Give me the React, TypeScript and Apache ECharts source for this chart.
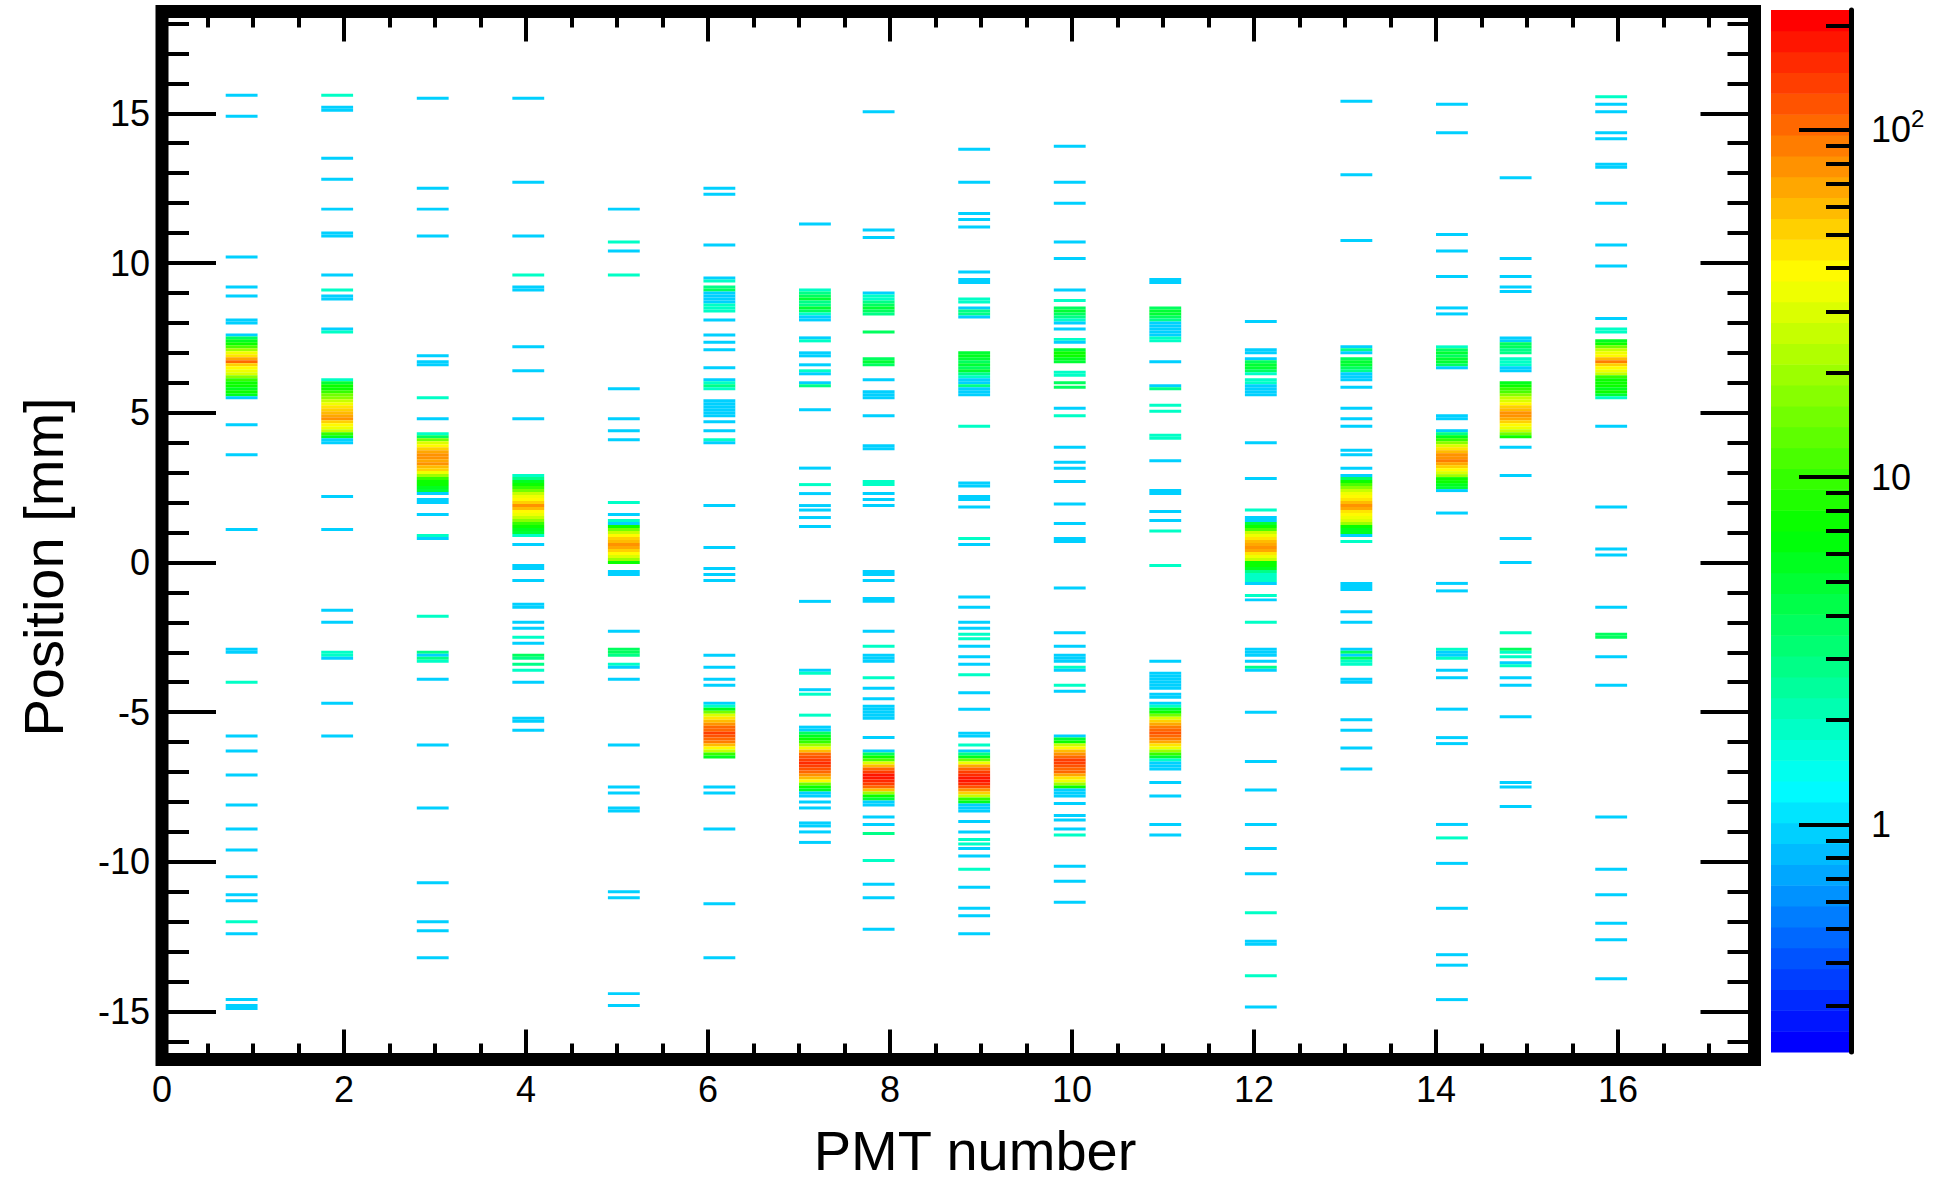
import React, { useEffect, useRef } from 'react';
import * as echarts from 'echarts';

// ---------- data ----------
// x centres of the occupied PMT bins (bin width 0.35)
const pmtX = [0.875, 1.925, 2.975, 4.025, 5.075, 6.125, 7.175, 7.875, 8.925, 9.975, 11.025, 12.075, 13.125, 14.175, 14.875, 15.925];
const binWidthX = 0.35;
const binHeightY = 0.1;

// [position (mm), counts] for each PMT column
const col01 = [[15.6,1],[14.9,1],[10.2,1],[9.2,1],[8.9,1],[8.1,1],[8.0,1],
  [7.6,1],[7.5,4],[7.4,6],[7.3,8],[7.2,12],[7.1,20],[7.0,35],[6.9,45],[6.8,70],[6.7,110],[6.6,50],[6.5,40],[6.4,35],[6.3,30],[6.2,18],[6.1,10],[6.0,8],[5.9,7],[5.8,6],[5.7,7],[5.6,6],[5.5,1],
  [4.6,1],[3.6,1],[1.1,1],[-2.9,1],[-3.0,1],[-4.0,2],[-5.8,1],[-6.3,1],[-7.1,1],[-8.1,1],[-8.9,1],[-9.6,1],[-10.5,1],[-11.1,1],[-11.3,1],[-12.0,2],[-12.4,1],[-14.6,1],[-14.8,1],[-14.9,1]];
const col02 = [[15.6,2],[15.2,1],[15.1,1],[13.5,1],[12.8,1],[11.8,1],[11.0,1],[10.9,1],[9.6,1],[9.1,2],[8.9,1],[8.8,1],[7.8,1],[7.7,2],
  [6.1,2],[6.0,5],[5.9,7],[5.8,8],[5.7,10],[5.6,14],[5.5,18],[5.4,25],[5.3,35],[5.2,45],[5.1,50],[5.0,60],[4.9,70],[4.8,80],[4.7,55],[4.6,40],[4.5,35],[4.4,25],[4.3,10],[4.2,6],[4.1,1],[4.0,1],
  [2.2,1],[1.1,1],[-1.6,1],[-2.0,1],[-3.0,2],[-3.1,2],[-3.2,1],[-4.7,1],[-5.8,1]];
const col03 = [[15.5,1],[12.5,1],[11.8,1],[10.9,1],[6.9,1],[6.7,1],[6.6,1],[5.5,2],[4.8,1],
  [4.3,2],[4.2,4],[4.1,15],[4.0,30],[3.9,40],[3.8,50],[3.7,65],[3.6,75],[3.5,80],[3.4,70],[3.3,75],[3.2,60],[3.1,50],[3.0,35],[2.9,20],[2.8,10],[2.7,8],[2.6,7],[2.5,6],[2.4,5],[2.3,1],
  [2.1,1],[2.0,1],[1.6,1],[0.9,2],[0.8,1],[-1.8,2],[-3.0,3],[-3.1,1],[-3.2,3],[-3.3,2],[-3.9,1],[-6.1,1],[-8.2,1],[-10.7,1],[-12.0,1],[-12.3,1],[-13.2,1]];
const col04 = [[15.5,1],[12.7,1],[10.9,1],[9.6,2],[9.2,1],[9.1,1],[7.2,1],[6.4,1],[4.8,1],
  [2.9,2],[2.8,3],[2.7,6],[2.6,8],[2.5,10],[2.4,15],[2.3,25],[2.2,35],[2.1,40],[2.0,55],[1.9,80],[1.8,60],[1.7,40],[1.6,35],[1.5,25],[1.4,18],[1.3,10],[1.2,8],[1.1,6],[1.0,5],[0.9,2],
  [0.6,1],[-0.1,1],[-0.2,1],[-0.6,1],[-1.4,1],[-1.5,1],[-2.0,1],[-2.2,1],[-2.5,2],[-2.7,1],[-3.1,4],[-3.2,3],[-3.4,3],[-3.6,2],[-4.0,1],[-5.2,1],[-5.3,1],[-5.6,1]];
const col05 = [[11.8,1],[10.7,2],[10.4,1],[9.6,2],[5.8,1],[4.8,1],[4.4,1],[4.1,1],[2.0,2],[1.6,1],
  [1.4,2],[1.3,1],[1.2,8],[1.1,15],[1.0,25],[0.9,40],[0.8,50],[0.7,60],[0.6,80],[0.5,70],[0.4,55],[0.3,40],[0.2,30],[0.1,20],[0.0,8],
  [-0.3,1],[-0.4,1],[-2.3,1],[-2.9,4],[-3.0,4],[-3.1,3],[-3.4,2],[-3.5,1],[-3.9,1],[-6.1,1],[-7.5,1],[-7.7,1],[-8.2,1],[-8.3,1],[-11.0,1],[-11.2,1],[-14.4,1],[-14.8,1]];
const col06 = [[12.5,1],[12.3,1],[10.6,1],[9.5,1],[9.4,2],[9.2,3],[9.1,4],[9.0,1],[8.9,1],[8.8,1],[8.7,1],[8.6,2],[8.5,2],[8.4,2],[8.1,1],[7.6,1],[7.35,1],[7.1,1],[6.5,1],[6.1,1],[6.0,2],[5.9,3],[5.8,2],
  [5.4,1],[5.3,1],[5.2,1],[5.1,1],[5.0,1],[4.9,1],[4.7,1],[4.4,1],[4.1,2],[4.0,1],[1.9,1],[0.5,1],[-0.2,1],[-0.4,1],[-0.6,1],[-3.1,1],[-3.5,1],[-3.9,1],[-4.1,1],
  [-4.7,1],[-4.8,2],[-4.9,6],[-5.0,15],[-5.1,30],[-5.2,45],[-5.3,60],[-5.4,80],[-5.5,100],[-5.6,110],[-5.7,130],[-5.8,120],[-5.9,110],[-6.0,90],[-6.1,60],[-6.2,40],[-6.3,25],[-6.4,10],[-6.5,6],
  [-7.5,1],[-7.7,1],[-8.9,1],[-11.4,1],[-13.2,1]];
const col07 = [[11.3,1],[9.1,2],[9.0,3],[8.9,4],[8.8,5],[8.7,3],[8.6,3],[8.5,5],[8.4,4],[8.3,2],[8.2,1],[8.1,1],[7.5,1],[7.4,2],[7.0,1],[6.9,1],[6.6,1],[6.4,2],[6.3,1],[6.0,1],[5.9,3],[5.1,1],[3.15,1],[2.6,2],[2.3,1],[1.9,1],[1.75,1],[1.5,1],[1.2,1],
  [-1.3,1],[-3.6,1],[-3.7,2],[-4.25,1],[-4.4,2],[-5.1,2],[-5.5,1],
  [-5.6,1],[-5.7,4],[-5.8,6],[-5.9,8],[-6.0,10],[-6.1,20],[-6.2,35],[-6.3,60],[-6.4,100],[-6.5,120],[-6.6,140],[-6.7,150],[-6.8,130],[-6.9,120],[-7.0,110],[-7.1,80],[-7.2,60],[-7.3,40],[-7.4,15],[-7.5,8],[-7.6,6],[-7.7,1],[-7.8,1],
  [-8.0,1],[-8.2,1],[-8.7,1],[-8.8,1],[-9.0,1],[-9.35,1]];
const col08 = [[15.05,1],[11.1,1],[10.85,1],[9.0,1],[8.9,2],[8.8,2],[8.7,3],[8.6,4],[8.5,5],[8.4,4],[8.3,3],[7.7,4],[6.8,4],[6.7,5],[6.6,4],[6.1,1],[5.7,1],[5.6,1],[5.5,1],[4.9,1],[3.9,1],[3.8,1],[2.7,2],[2.6,2],[2.3,1],[2.1,1],[1.9,1],
  [-0.3,1],[-0.4,1],[-0.6,1],[-1.2,1],[-1.3,1],[-2.3,1],[-2.8,2],[-3.1,1],[-3.2,1],[-3.3,1],[-3.85,2],[-4.2,1],[-4.55,1],[-4.8,1],[-4.9,1],[-5.0,1],[-5.1,1],[-5.2,1],[-5.85,1],
  [-6.3,1],[-6.4,4],[-6.5,7],[-6.6,12],[-6.7,30],[-6.8,60],[-6.9,100],[-7.0,140],[-7.1,170],[-7.2,180],[-7.3,160],[-7.4,140],[-7.5,100],[-7.6,60],[-7.7,20],[-7.8,8],[-7.9,5],[-8.0,1],[-8.1,1],
  [-8.5,1],[-8.75,1],[-9.05,3],[-9.95,2],[-10.75,1],[-11.2,1],[-12.25,1]];
const col09 = [[13.8,1],[12.7,1],[11.65,1],[11.45,1],[11.2,1],[9.7,1],[9.45,1],[9.35,1],[8.8,2],[8.7,2],[8.5,1],[8.4,3],[8.3,3],[8.2,1],
  [7.0,5],[6.9,6],[6.8,5],[6.7,4],[6.6,5],[6.5,4],[6.4,5],[6.3,3],[6.2,2],[6.1,1],[6.0,1],[5.9,3],[5.8,1],[5.7,1],[5.6,1],
  [4.55,2],[2.65,1],[2.55,1],[2.2,1],[2.1,1],[1.85,1],[0.8,2],[0.6,1],[-1.15,1],[-1.5,1],[-2.0,1],[-2.2,1],[-2.4,2],[-2.55,2],[-2.8,1],[-3.15,1],[-3.4,1],[-3.75,2],[-4.35,1],[-4.9,1],
  [-5.7,1],[-5.8,1],[-6.1,2],[-6.3,1],[-6.4,3],[-6.5,6],[-6.6,15],[-6.7,35],[-6.8,70],[-6.9,110],[-7.0,140],[-7.1,160],[-7.2,180],[-7.3,170],[-7.4,150],[-7.5,120],[-7.6,80],[-7.7,50],[-7.8,25],[-7.9,10],[-8.0,6],[-8.1,1],[-8.2,1],[-8.3,1],
  [-8.65,1],[-9.0,1],[-9.25,2],[-9.4,2],[-9.55,1],[-9.8,1],[-10.25,2],[-10.85,1],[-11.55,1],[-11.8,1],[-12.4,1]];
const col10 = [[13.9,1],[12.7,1],[12.0,1],[10.7,1],[10.15,1],[9.1,1],[8.75,2],[8.5,4],[8.4,5],[8.3,4],[8.2,3],[8.1,2],[8.0,1],[7.8,1],[7.45,2],[7.35,1],[7.1,5],[7.0,7],[6.9,8],[6.8,6],[6.7,5],[6.35,2],[6.25,2],[6.0,4],[5.85,4],[5.15,1],[4.9,2],[3.85,1],[3.35,1],[3.15,1],[2.7,1],[1.95,1],[1.3,1],[0.8,1],[0.7,1],
  [-0.85,1],[-2.35,1],[-2.8,1],[-3.1,1],[-3.2,1],[-3.3,1],[-3.5,2],[-3.6,1],[-4.1,2],[-4.3,1],
  [-5.8,1],[-5.9,5],[-6.0,8],[-6.1,25],[-6.2,40],[-6.3,60],[-6.4,80],[-6.5,110],[-6.6,130],[-6.7,140],[-6.8,120],[-6.9,110],[-7.0,100],[-7.1,70],[-7.2,45],[-7.3,35],[-7.4,20],[-7.5,8],[-7.6,1],[-7.7,1],[-7.8,1],
  [-8.05,1],[-8.45,1],[-8.6,1],[-8.9,1],[-9.1,2],[-10.15,1],[-10.65,1],[-11.35,1]];
const col11 = [[9.45,1],[9.35,1],[8.5,4],[8.4,5],[8.3,5],[8.2,4],[8.1,3],[8.0,1],[7.9,1],[7.8,1],[7.7,1],[7.6,1],[7.5,2],[7.4,2],[6.7,1],[5.9,1],[5.8,3],[5.25,2],[5.05,2],[4.25,2],[4.15,2],[3.4,1],[2.4,1],[2.3,1],[1.7,1],[1.4,1],[1.05,2],
  [-0.1,2],[-3.3,1],[-3.7,1],[-3.8,1],[-3.9,1],[-4.0,1],[-4.1,1],[-4.2,1],[-4.4,1],[-4.5,1],[-4.7,1],
  [-4.8,2],[-4.9,5],[-5.0,8],[-5.1,15],[-5.2,30],[-5.3,50],[-5.4,70],[-5.5,90],[-5.6,110],[-5.7,120],[-5.8,110],[-5.9,90],[-6.0,70],[-6.1,45],[-6.2,35],[-6.3,20],[-6.4,10],[-6.5,5],[-6.6,2],[-6.7,1],[-6.8,1],[-6.9,1],
  [-7.35,1],[-7.8,1],[-8.75,1],[-9.1,1]];
const col12 = [[8.05,1],[7.1,1],[7.0,1],[6.8,1],[6.7,4],[6.6,5],[6.5,5],[6.4,4],[6.3,2],[6.1,2],[6.0,2],[5.9,1],[5.8,1],[5.7,1],[5.6,1],[4.0,1],[2.8,1],[1.75,2],
  [1.5,1],[1.4,1],[1.3,5],[1.2,8],[1.1,12],[1.0,25],[0.9,35],[0.8,45],[0.7,60],[0.6,70],[0.5,75],[0.4,70],[0.3,45],[0.2,35],[0.1,25],[0.0,8],[-0.1,7],[-0.2,6],[-0.3,3],[-0.4,2],[-0.5,2],[-0.6,2],[-0.7,1],
  [-1.1,2],[-1.25,1],[-2.0,2],[-2.9,1],[-3.0,1],[-3.1,1],[-3.3,1],[-3.5,3],[-3.6,1],[-5.0,1],[-6.65,1],[-7.6,1],[-8.75,1],[-9.55,1],[-10.4,1],[-11.7,2],[-12.65,1],[-12.75,1],[-13.8,2],[-14.85,1]];
const col13 = [[15.4,1],[12.95,1],[10.75,1],[7.2,1],[7.1,3],[7.0,1],[6.8,4],[6.7,5],[6.6,5],[6.5,4],[6.4,3],[6.3,1],[6.2,1],[6.1,1],[5.85,1],[5.15,1],[4.8,1],[4.55,1],[3.75,1],[3.6,1],[3.15,1],
  [2.9,1],[2.8,4],[2.7,8],[2.6,12],[2.5,18],[2.4,25],[2.3,35],[2.2,40],[2.1,45],[2.0,60],[1.9,80],[1.8,70],[1.7,45],[1.6,40],[1.5,35],[1.4,30],[1.3,20],[1.2,8],[1.1,6],[1.0,6],[0.9,1],[0.7,2],
  [-0.7,1],[-0.8,1],[-0.9,1],[-1.65,1],[-2.0,1],[-2.9,1],[-3.0,4],[-3.1,1],[-3.2,4],[-3.3,2],[-3.4,2],[-3.9,1],[-4.0,1],[-5.25,1],[-5.6,1],[-6.2,1],[-6.9,1]];
const col14 = [[15.3,1],[14.35,1],[10.95,1],[10.4,1],[9.55,1],[8.5,1],[8.3,1],[7.2,2],[7.1,4],[7.0,5],[6.9,4],[6.8,5],[6.7,5],[6.6,4],[6.5,1],[4.9,1],[4.8,1],
  [4.4,1],[4.3,3],[4.2,6],[4.1,10],[4.0,18],[3.9,30],[3.8,45],[3.7,60],[3.6,75],[3.5,80],[3.4,90],[3.3,70],[3.2,55],[3.1,40],[3.0,30],[2.9,20],[2.8,8],[2.7,7],[2.6,6],[2.5,5],[2.4,1],
  [1.65,1],[-0.7,1],[-0.95,1],[-2.9,2],[-3.0,1],[-3.1,1],[-3.2,2],[-3.6,1],[-3.85,1],[-4.9,1],[-5.85,1],[-6.05,1],[-8.75,1],[-9.2,2],[-10.05,1],[-11.55,1],[-13.1,1],[-13.45,1],[-14.6,1]];
const col15 = [[12.85,1],[10.15,1],[9.55,1],[9.2,1],[9.05,1],[7.5,1],[7.4,1],[7.3,4],[7.2,4],[7.1,3],[7.0,3],[6.8,2],[6.7,2],[6.6,2],[6.5,1],[6.4,1],
  [6.0,6],[5.9,8],[5.8,10],[5.7,12],[5.6,18],[5.5,25],[5.4,30],[5.3,40],[5.2,50],[5.1,60],[5.0,75],[4.9,80],[4.8,70],[4.7,50],[4.6,40],[4.5,35],[4.4,25],[4.3,15],[4.2,7],
  [3.85,1],[2.9,1],[0.8,1],[0.0,1],[-2.35,2],[-2.9,4],[-3.0,2],[-3.15,2],[-3.35,1],[-3.45,2],[-3.85,1],[-4.1,1],[-5.15,1],[-7.35,1],[-7.5,1],[-8.15,1]];
const col16 = [[15.55,2],[15.3,1],[15.05,1],[14.35,1],[14.15,1],[13.3,1],[13.2,1],[12.0,1],[10.6,1],[9.9,1],[8.15,1],[7.8,2],[7.7,2],
  [7.4,6],[7.3,8],[7.2,15],[7.1,25],[7.0,35],[6.9,40],[6.8,60],[6.7,90],[6.6,50],[6.5,40],[6.4,35],[6.3,25],[6.2,10],[6.1,8],[6.0,7],[5.9,8],[5.8,6],[5.7,7],[5.6,5],[5.5,2],
  [4.55,1],[1.85,1],[0.45,1],[0.25,1],[-1.5,1],[-2.4,4],[-2.5,4],[-3.15,1],[-4.1,1],[-8.5,1],[-10.25,1],[-11.1,1],[-12.05,1],[-12.6,1],[-13.9,1]];
const columns = [col01, col02, col03, col04, col05, col06, col07, col08, col09, col10, col11, col12, col13, col14, col15, col16];

// axis ticks
const xRange = [0, 17.5];
const yRange = [-16.6, 18.4];
const xMajorTicks = [0, 2, 4, 6, 8, 10, 12, 14, 16];
const xMinorTicks = [0.5, 1, 1.5, 2.5, 3, 3.5, 4.5, 5, 5.5, 6.5, 7, 7.5, 8.5, 9, 9.5, 10.5, 11, 11.5, 12.5, 13, 13.5, 14.5, 15, 15.5, 16.5, 17];
const yMajorTicks = [-15, -10, -5, 0, 5, 10, 15];
const yMinorTicks = [-16, -14, -13, -12, -11, -9, -8, -7, -6, -4, -3, -2, -1, 1, 2, 3, 4, 6, 7, 8, 9, 11, 12, 13, 14, 16, 17, 18];
// colour (z) scale, logarithmic
const zMin = 0.2213;
const zMax = 221.3;
const zMajorTicks = [1, 10, 100];
const zMinorTicks = [0.3, 0.4, 0.5, 0.6, 0.7, 0.8, 0.9, 2, 3, 4, 5, 6, 7, 8, 9, 20, 30, 40, 50, 60, 70, 80, 90, 200];
const nColors = 50;

// ---------- helpers ----------
const FONT = "'Liberation Sans', Arial, Helvetica, sans-serif";
const lzMin = Math.log10(zMin);
const lzMax = Math.log10(zMax);

function hslToHex(h: number, s: number, l: number): string {
  const k = (n: number) => (n + h / 30) % 12;
  const a = s * Math.min(l, 1 - l);
  const f = (n: number) => l - a * Math.max(-1, Math.min(k(n) - 3, Math.min(9 - k(n), 1)));
  const toHex = (x: number) => Math.round(x * 255).toString(16).padStart(2, '0');
  return '#' + toHex(f(0)) + toHex(f(8)) + toHex(f(4));
}
const palette = Array.from({ length: nColors }, (_, i) => hslToHex(240 * (1 - i / (nColors - 1)), 1, 0.5));
function countColor(v: number): string {
  let i = Math.floor((Math.log10(v) - lzMin) * nColors / (lzMax - lzMin) + 0.01);
  if (i < 0) i = 0;
  if (i > nColors - 1) i = nColors - 1;
  return palette[i];
}

const heatData: number[][] = [];
columns.forEach((col, ci) => {
  col.forEach(([y, c]) => heatData.push([pmtX[ci], y, c]));
});
const barData = palette.map((_, i) => [0.5, lzMin + (i * (lzMax - lzMin)) / nColors, lzMin + ((i + 1) * (lzMax - lzMin)) / nColors, i]);

const tickStyle = { color: '#000', width: 4 };
const noSplit = { show: false };

function xAxisDef(position: string, ticks: number[], len: number, labels: boolean) {
  return {
    type: 'value', gridIndex: 0, position, min: xRange[0], max: xRange[1], z: 5,
    axisLine: { show: false, onZero: false },
    axisTick: { show: true, inside: true, length: len, lineStyle: tickStyle, customValues: ticks },
    axisLabel: { show: labels, customValues: ticks, margin: 12, color: '#000', fontSize: 36, fontFamily: FONT },
    splitLine: noSplit,
  };
}
function yAxisDef(position: string, ticks: number[], len: number, labels: boolean) {
  return {
    type: 'value', gridIndex: 0, position, min: yRange[0], max: yRange[1], z: 5,
    axisLine: { show: false, onZero: false },
    axisTick: { show: true, inside: true, length: len, lineStyle: tickStyle, customValues: ticks },
    axisLabel: { show: labels, customValues: ticks, margin: 12, color: '#000', fontSize: 36, fontFamily: FONT },
    splitLine: noSplit,
  };
}

export default function App() {
  const ref = useRef<HTMLDivElement>(null);
  useEffect(() => {
    if (!ref.current) return;
    const chart = echarts.init(ref.current, null, { renderer: 'svg' });
    const option: any = {
      animation: false,
      backgroundColor: '#fff',
      grid: [
        { left: 162, top: 11.5, width: 1592.5, height: 1048, show: true, borderColor: '#000', borderWidth: 13, backgroundColor: 'transparent', containLabel: false, z: 4 },
        { left: 1771, top: 10, width: 80, height: 1042, show: false, containLabel: false },
      ],
      xAxis: [
        xAxisDef('bottom', xMajorTicks, 30, true),
        xAxisDef('bottom', xMinorTicks, 16, false),
        xAxisDef('top', xMajorTicks, 30, false),
        xAxisDef('top', xMinorTicks, 16, false),
        { type: 'value', gridIndex: 1, min: 0, max: 1, show: false },
      ],
      yAxis: [
        yAxisDef('left', yMajorTicks, 54, true),
        yAxisDef('left', yMinorTicks, 27, false),
        yAxisDef('right', yMajorTicks, 54, false),
        yAxisDef('right', yMinorTicks, 27, false),
        {
          type: 'value', gridIndex: 1, position: 'right', min: lzMin, max: lzMax, z: 5,
          axisLine: { show: true, onZero: false, lineStyle: { color: '#000', width: 5 } },
          axisTick: { show: true, inside: true, length: 52, lineStyle: tickStyle, customValues: zMajorTicks.map(Math.log10) },
          axisLabel: {
            show: true, customValues: zMajorTicks.map(Math.log10), margin: 20, color: '#000', fontSize: 36, fontFamily: FONT,
            formatter: (v: number) => {
              const n = Math.round(Math.pow(10, v));
              return n >= 100 ? '{b|10}{s|' + Math.round(v) + '}' : String(n);
            },
            rich: {
              b: { fontSize: 36, fontFamily: FONT, color: '#000' },
              s: { fontSize: 24, fontFamily: FONT, color: '#000', padding: [0, 0, 22, 0] },
            },
          },
          splitLine: noSplit,
        },
        {
          type: 'value', gridIndex: 1, position: 'right', min: lzMin, max: lzMax, z: 5,
          axisLine: { show: false, onZero: false },
          axisTick: { show: true, inside: true, length: 25, lineStyle: tickStyle, customValues: zMinorTicks.map(Math.log10) },
          axisLabel: { show: false },
          splitLine: noSplit,
        },
      ],
      series: [
        {
          type: 'custom', xAxisIndex: 0, yAxisIndex: 0, clip: true, silent: true, z: 1,
          data: heatData,
          encode: { x: 0, y: 1 },
          renderItem: (params: any, api: any) => {
            const x = api.value(0), y = api.value(1), v = api.value(2);
            const a = api.coord([x - binWidthX / 2, y + binHeightY / 2]);
            const b = api.coord([x + binWidthX / 2, y - binHeightY / 2]);
            return { type: 'rect', shape: { x: a[0], y: a[1], width: b[0] - a[0], height: b[1] - a[1] }, style: { fill: countColor(v) } };
          },
        },
        {
          type: 'custom', xAxisIndex: 4, yAxisIndex: 4, silent: true, z: 1,
          data: barData,
          encode: { x: 0, y: [1, 2] },
          renderItem: (params: any, api: any) => {
            const lo = api.value(1), hi = api.value(2), i = api.value(3);
            const a = api.coord([0, hi]);
            const b = api.coord([1, lo]);
            return { type: 'rect', shape: { x: a[0], y: a[1], width: b[0] - a[0], height: b[1] - a[1] + 0.5 }, style: { fill: palette[i] } };
          },
        },
      ],
      graphic: [
        { type: 'text', x: 975, y: 1150, style: { text: 'PMT number', fontSize: 56, fontFamily: FONT, fill: '#000', align: 'center', verticalAlign: 'middle', textAlign: 'center', textVerticalAlign: 'middle' } },
        { type: 'text', x: 43, y: 567, rotation: Math.PI / 2, style: { text: 'Position [mm]', fontSize: 56, fontFamily: FONT, fill: '#000', align: 'center', verticalAlign: 'middle', textAlign: 'center', textVerticalAlign: 'middle' } },
      ],
    };
    chart.setOption(option);
    return () => chart.dispose();
  }, []);
  return <div ref={ref} style={{ position: 'absolute', left: 0, top: 0, width: 1945, height: 1180 }} />;
}
